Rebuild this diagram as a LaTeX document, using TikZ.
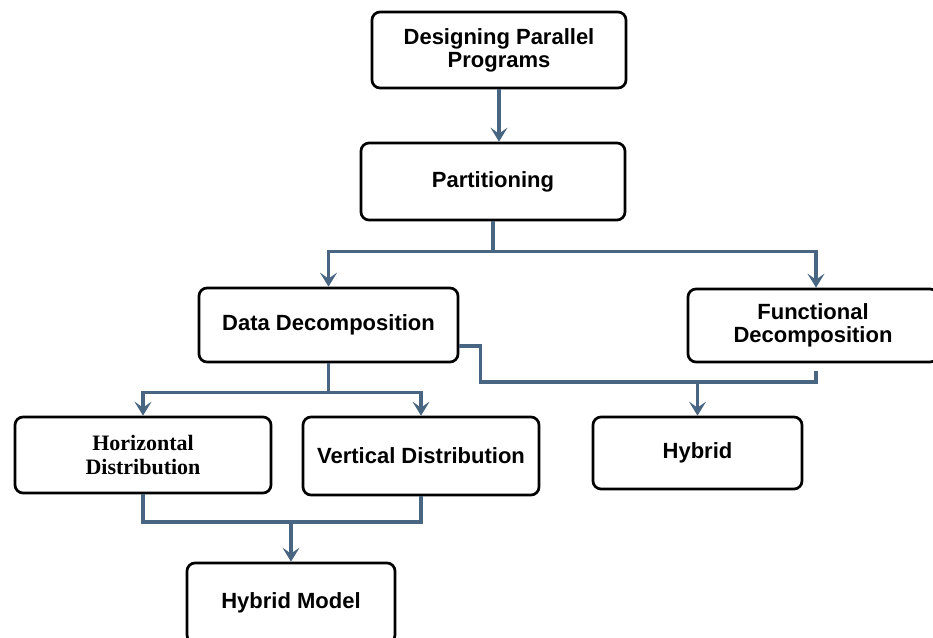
\documentclass[tikz,border=0pt]{standalone}
\usepackage{fontspec}
\setmainfont{Liberation Sans}
\newfontfamily\timesbox{Liberation Serif}
\usetikzlibrary{positioning,calc}
\usetikzlibrary{arrows.meta}
\definecolor{LinkBlue}{RGB}{72,102,130}
\tikzset{
  stage/.style={draw=black,fill=white,rounded corners=8pt,line width=2.7pt,align=center,
    inner sep=0pt,font=\fontsize{22}{23}\selectfont\bfseries},
  link/.style={draw=LinkBlue,line width=3.2pt},
  flow/.style={link,-{Stealth[length=14pt,width=17pt,inset=6pt]}},
}

\begin{document}
\begin{tikzpicture}[x=1pt,y=-1pt]
\useasboundingbox (0,0) rectangle (933,637);
\node[stage,minimum width=254pt,minimum height=76pt] (dpp) at (499,50) {Designing Parallel\\Programs};
\node[stage,minimum width=264pt,minimum height=77pt] (part) at (493,181.5) {Partitioning};
\node[stage,minimum width=259pt,minimum height=74pt] (data) at (328.5,325) {Data Decomposition};
\node[stage,minimum width=250pt,minimum height=73pt] (func) at (813,325.5) {Functional\\Decomposition};
\node[stage,minimum width=256pt,minimum height=76pt,font=\fontsize{22}{24}\selectfont\timesbox\bfseries] (horiz) at (143,455) {Horizontal\\Distribution};
\node[stage,minimum width=236pt,minimum height=78pt] (vert) at (421,456) {Vertical Distribution};
\node[stage,minimum width=209pt,minimum height=72pt] (hyb) at (697.5,453) {Hybrid};
\node[stage,minimum width=208pt,minimum height=80pt] (model) at (291,603) {Hybrid Model};
\coordinate (pj) at ($(part.south)+(0,30)$);
\coordinate (dj) at ($(data.south)+(0,29)$);
\coordinate (mj) at (model.north |- 0,522);
\coordinate (hj) at (hyb.north |- 0,382);
\coordinate (dout) at ($(data.east)+(0,21)$);
\coordinate (fout) at ($(func.south)+(3,8)$);
\draw[flow] (dpp.south) -- (dpp.south |- part.north);
\draw[link] (part.south) -- (pj);
\draw[flow] (pj) -| (data.north);
\draw[flow] (pj) -| ($(func.north)+(3,0)$);
\draw[link] (data.south) -- (dj);
\draw[flow] (dj) -| (horiz.north);
\draw[flow] (dj) -| (vert.north);
\draw[link] (horiz.south) |- (mj) -| (vert.south);
\draw[flow] (mj) -- (model.north);
\draw[link] (dout) -- ++(21,0) |- (hj) -| (fout);
\draw[flow] (hj) -- (hyb.north);
\end{tikzpicture}
\end{document}
